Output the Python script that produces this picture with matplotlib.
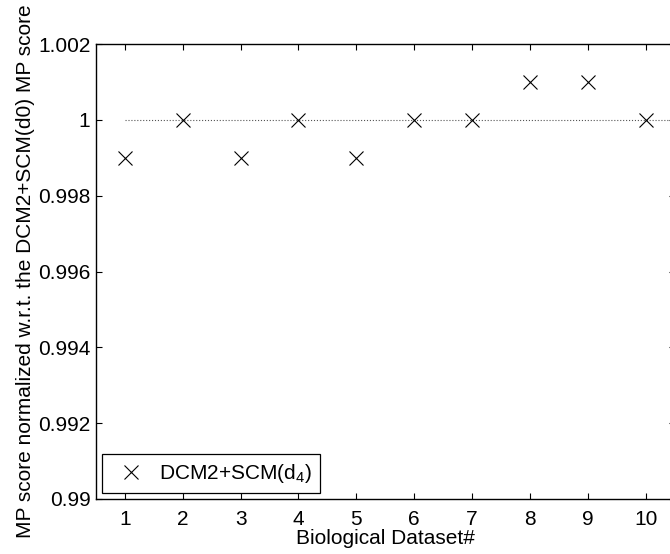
import matplotlib
matplotlib.use('Agg')
import matplotlib.pyplot as plt

# data
datasets = [1, 2, 3, 4, 5, 6, 7, 8, 9, 10]
scores = [0.999, 1.000, 0.999, 1.000, 0.999, 1.000, 1.000, 1.001, 1.001, 1.000]
ref_x = [1, 11]
ref_y = [1.0, 1.0]
yticks = [0.99, 0.992, 0.994, 0.996, 0.998, 1.0, 1.002]
ytick_labels = ['0.99', '0.992', '0.994', '0.996', '0.998', '1', '1.002']

plt.rcParams['font.family'] = ['Liberation Sans', 'DejaVu Sans']
plt.rcParams['font.size'] = 15
plt.rcParams['mathtext.fontset'] = 'custom'
plt.rcParams['mathtext.rm'] = 'Liberation Sans'
plt.rcParams['mathtext.it'] = 'Liberation Sans'

fig = plt.figure(figsize=(6.7, 5.54), dpi=100)
# axes run slightly past the right edge, as in the reference
ax = fig.add_axes([96 / 670, 1 - 499 / 554, (674.5 - 96) / 670, (499 - 44) / 554])

ax.plot(ref_x, ref_y, linestyle=':', color='#555555', lw=0.8)
ax.plot(datasets, scores, linestyle='none', marker='x', color='black',
        markersize=9.5, markeredgewidth=0.8, label='DCM2+SCM(d$_4$)')

ax.set_xlim(0.5, 10.5)
ax.set_ylim(0.99, 1.002)
ax.set_xticks(datasets)
ax.set_yticks(yticks)
ax.set_yticklabels(ytick_labels)
ax.tick_params(axis='y', direction='in', right=True, length=4, width=0.8, pad=4)
ax.tick_params(axis='x', direction='in', top=True, length=4, width=0.8, pad=8)
for s in ax.spines.values():
    s.set_linewidth(1.0)

ax.set_xlabel('Biological Dataset#', labelpad=0)
ax.set_ylabel('MP score normalized w.r.t. the DCM2+SCM(d0) MP score', labelpad=2)

leg = ax.legend(loc='lower left', fancybox=False, edgecolor='black', framealpha=1,
                borderaxespad=0.3, handlelength=2.0, borderpad=0.38, handletextpad=0.35)
leg.get_frame().set_linewidth(0.9)

plt.savefig('out.png', dpi=100)
plt.close()
